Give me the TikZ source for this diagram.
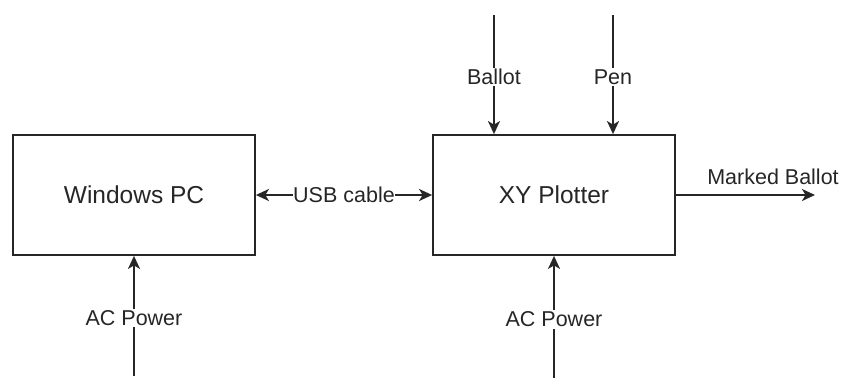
\documentclass[tikz,border=0pt]{standalone}
\usepackage{fontspec}
\setmainfont{Liberation Sans}
\usetikzlibrary{arrows.meta}
\begin{document}
\begin{tikzpicture}[x=1pt,y=-1pt,
  tip/.style={Stealth[length=13pt,width=12pt,inset=3.5pt]},
  blk/.style={draw=black!85,line width=1.8pt,minimum width=242pt,minimum height=120pt,inner sep=0pt,font=\fontsize{24.5}{28}\selectfont,text=black!85},
  lbl/.style={fill=white,inner sep=1.5pt,font=\fontsize{21.5}{25}\selectfont,text=black!85},
  conn/.style={draw=black!85,line width=1.8pt,-{Stealth[length=13pt,width=12pt,inset=3.5pt]}}]
\useasboundingbox (0,0) rectangle (841,378);
\node[blk] (pc) at (134,195) {Windows PC};
\node[blk] (xy) at (554,195) {XY Plotter};
\coordinate (bt) at (494,15);
\coordinate (pt) at (613,15);
\coordinate (mb) at (815,195);
\coordinate (acl) at (134,376);
\coordinate (acr) at (554,378);
\draw[conn] (bt) -- (bt |- xy.north) node[lbl,pos=0.52] (lb) {Ballot};
\draw[conn] (pt) -- (pt |- xy.north) node[lbl,pos=0.52] (lp) {Pen};
\draw[conn] (xy.east) -- (mb);
\node[font=\fontsize{21.5}{25}\selectfont,text=black!85] (lmb) at (773,177) {Marked Ballot};
\draw[conn,{Stealth[length=13pt,width=12pt,inset=3.5pt]}-{Stealth[length=13pt,width=12pt,inset=3.5pt]}] (pc.east) -- (xy.west) node[lbl,pos=0.5,inner xsep=0.5pt] (lu) {USB cable};
\draw[conn] (acl) -- (pc.south) node[lbl,pos=0.48] (la) {AC Power};
\draw[conn] (acr) -- (xy.south) node[lbl,pos=0.48] (la2) {AC Power};
\end{tikzpicture}
\end{document}
